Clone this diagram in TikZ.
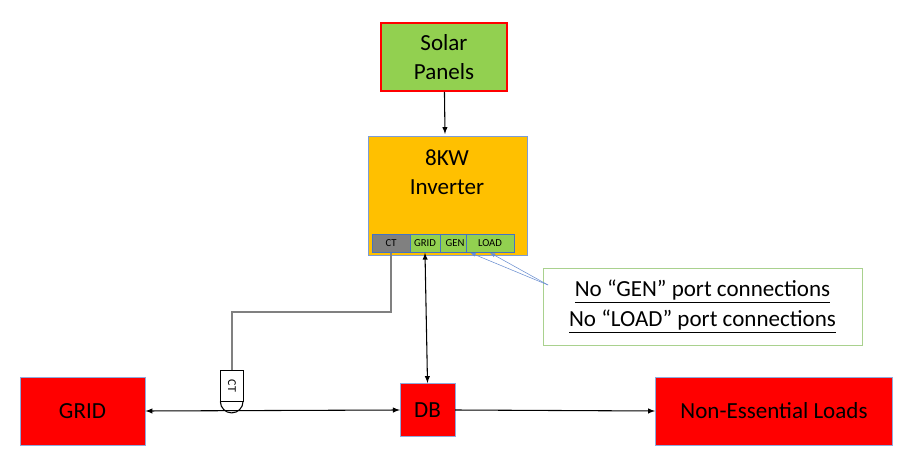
\documentclass[tikz,border=0pt]{standalone}
\usepackage{fontspec}
\setmainfont{Carlito}
\usetikzlibrary{positioning}
\definecolor{pvgreen}{RGB}{146,208,80}
\definecolor{invorange}{RGB}{255,192,0}
\definecolor{boxblue}{RGB}{68,114,196}
\definecolor{calloutgreen}{RGB}{169,209,142}
\begin{document}
\begin{tikzpicture}[x=0.75pt,y=0.75pt,yscale=-1,xscale=1,
  redbox/.style={draw=boxblue!60,fill=red,font=\LARGE},
  port/.style={draw=boxblue,fill=pvgreen,font=\footnotesize,minimum height=13.5pt,inner sep=0pt},
  link/.style={thick,-latex},
  both/.style={thick,latex-latex}]
\path[use as bounding box] (0,0) rectangle (903,452);

%Shape: Solar panels
\node[draw=red,line width=1.5pt,fill=pvgreen,minimum width=94pt,minimum height=51pt,align=center,font=\LARGE] (solar) at (444,57) {Solar\\Panels};
%Shape: Inverter
\node[draw=boxblue!70,fill=invorange,minimum width=119pt,minimum height=89pt] (inv) at (447.5,195.5) {};
\node[align=center,font=\LARGE] (invtext) at (447,172) {8KW\\Inverter};
%Ports
\node[port,fill=gray,minimum width=28.5pt] (ct) at (391,243.5) {CT};
\node[port,minimum width=22.5pt] (gridport) at (425,243.5) {GRID};
\node[port,minimum width=22.5pt] (genport) at (455,243.5) {GEN};
\node[port,minimum width=36pt] (loadport) at (490,243.5) {LOAD};

%Shape: bottom boxes
\node[redbox,minimum width=94pt,minimum height=51pt] (grid) at (82.5,411) {GRID};
\node[redbox,minimum width=41pt,minimum height=40pt] (db) at (427.5,410) {DB};
\node[redbox,minimum width=178pt,minimum height=51pt] (loads) at (774,411) {Non-Essential Loads};

%CT clamp
\node[draw,fill=white,minimum width=17pt,minimum height=23pt,inner sep=0pt] (clamp) at (232,386) {\rotatebox{-90}{\small CT}};

%Callout
\node[draw=calloutgreen,fill=white,minimum width=239pt,minimum height=58pt,align=center,font=\LARGE] (note) at (702.5,306.5) {\underline{No “GEN” port connections}\\\underline{No “LOAD” port connections}};
\coordinate (notetip) at (548,285);

%Connectors
\draw[link] (solar) -- (445,134);
\draw[both] (gridport.south) -- (db.north);
\draw[both] (grid.east) -- (db.west);
\draw[link] (db.east) -- (loads.west);
\draw[thick] (clamp.south west) arc[start angle=180,end angle=0,radius=11.3];
\draw[gray,thick] (ct.south) |- (232,312) -- (clamp.north);
\draw[boxblue!80,-latex] (notetip) -- (genport.south east);
\draw[boxblue!80,-latex] (notetip) -- (loadport.south);
\end{tikzpicture}
\end{document}
